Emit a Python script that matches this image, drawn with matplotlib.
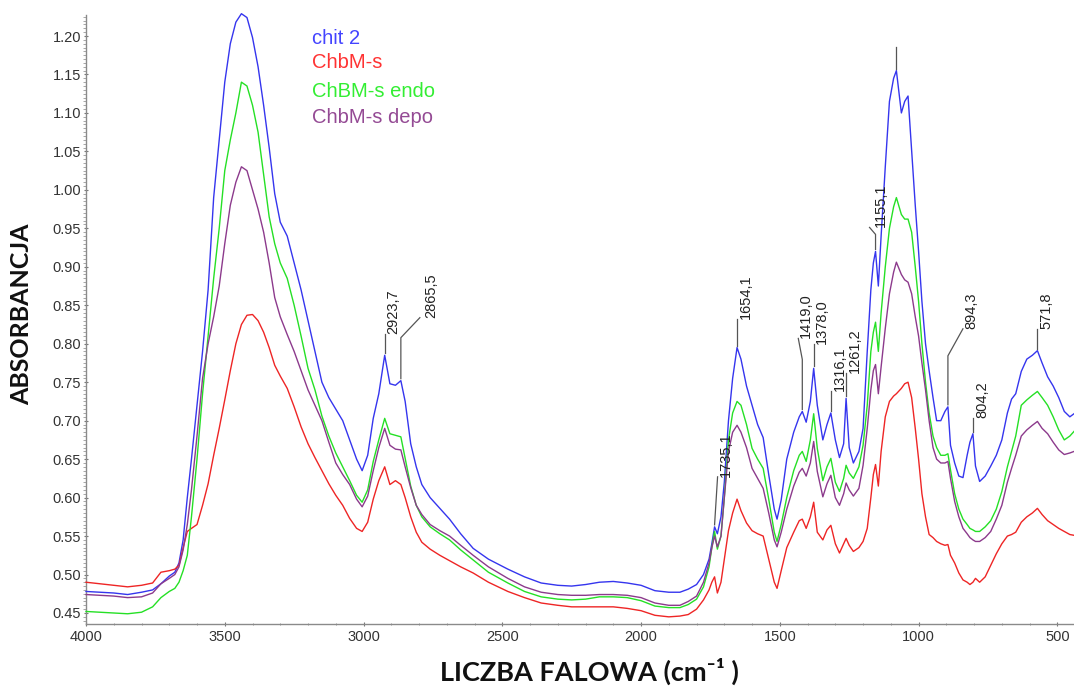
import matplotlib
matplotlib.use("Agg")
import matplotlib.pyplot as plt
from matplotlib.ticker import MultipleLocator, FormatStrFormatter
import numpy as np

# ---- FTIR spectra: wavenumber grid (cm-1) and absorbance of each sample ----
wavenumber = [
    4000, 3950, 3900, 3850, 3800, 3760, 3730, 3700, 3680, 3665, 3650,
    3635, 3620, 3600, 3580, 3560, 3540, 3520, 3500, 3480, 3460, 3440, 3420,
    3400, 3380, 3360, 3340, 3320, 3300, 3275, 3250, 3225, 3200, 3175, 3150, 3125,
    3100, 3075, 3050, 3025, 3005, 2985, 2965, 2945, 2923.7, 2905, 2885, 2865.5, 2850,
    2830, 2810, 2790, 2760, 2725, 2690, 2650, 2605, 2550, 2480, 2420, 2360, 2300, 2250, 2200,
    2150, 2100, 2050, 2000, 1950, 1900, 1860, 1830, 1800, 1775, 1755, 1745,
    1735.1, 1725, 1712, 1700, 1685, 1670, 1654.1, 1640, 1620, 1600, 1580, 1560, 1540,
    1520, 1510, 1495, 1475, 1450, 1430, 1419.0, 1405, 1390, 1378.0, 1365, 1345, 1330,
    1316.1, 1300, 1285, 1270, 1261.2, 1250, 1235, 1215, 1200, 1185, 1172, 1163,
    1155.1, 1145, 1135, 1120, 1105, 1090, 1080, 1062, 1050, 1038, 1025, 1012,
    1000, 988, 975, 962, 948, 935, 920, 905, 894.3, 885, 870, 855,
    840, 825, 815, 804.2, 795, 780, 760, 740, 720, 700, 680, 665,
    650, 630, 610, 590, 571.8, 555, 535, 515, 495, 475, 455, 440,
]

chit2 = [
    0.478, 0.477, 0.476, 0.474, 0.477, 0.480, 0.488, 0.498, 0.503, 0.515, 0.545,
    0.600, 0.650, 0.720, 0.790, 0.870, 0.990, 1.065, 1.140, 1.190, 1.218, 1.229, 1.224,
    1.198, 1.160, 1.110, 1.055, 0.995, 0.958, 0.940, 0.905, 0.870, 0.830, 0.790, 0.750, 0.730,
    0.715, 0.700, 0.675, 0.650, 0.635, 0.655, 0.703, 0.735, 0.785, 0.748, 0.746, 0.752, 0.725,
    0.670, 0.640, 0.617, 0.600, 0.586, 0.572, 0.553, 0.534, 0.520, 0.507, 0.497, 0.489, 0.486, 0.485, 0.487,
    0.490, 0.491, 0.489, 0.486, 0.479, 0.477, 0.477, 0.481, 0.487, 0.500, 0.520, 0.540,
    0.562, 0.553, 0.575, 0.620, 0.700, 0.755, 0.795, 0.780, 0.745, 0.720, 0.695, 0.678, 0.630,
    0.585, 0.572, 0.597, 0.650, 0.685, 0.705, 0.712, 0.698, 0.725, 0.768, 0.720, 0.675, 0.695,
    0.710, 0.675, 0.652, 0.670, 0.729, 0.665, 0.645, 0.660, 0.690, 0.790, 0.870, 0.905,
    0.920, 0.875, 0.940, 1.030, 1.115, 1.145, 1.155, 1.100, 1.115, 1.122, 1.050, 0.980,
    0.920, 0.855, 0.800, 0.765, 0.730, 0.700, 0.700, 0.712, 0.718, 0.668, 0.645, 0.628,
    0.626, 0.655, 0.672, 0.683, 0.641, 0.621, 0.628, 0.641, 0.655, 0.675, 0.710, 0.728,
    0.735, 0.764, 0.780, 0.785, 0.791, 0.775, 0.757, 0.745, 0.730, 0.712, 0.705, 0.709,
]

chbm_s = [
    0.490, 0.488, 0.486, 0.484, 0.486, 0.489, 0.503, 0.505, 0.507, 0.512, 0.535,
    0.556, 0.560, 0.565, 0.590, 0.618, 0.655, 0.690, 0.727, 0.765, 0.800, 0.825, 0.837,
    0.838, 0.830, 0.815, 0.795, 0.772, 0.758, 0.742, 0.718, 0.692, 0.670, 0.652, 0.635, 0.618,
    0.603, 0.590, 0.573, 0.560, 0.556, 0.568, 0.598, 0.622, 0.640, 0.617, 0.622, 0.617, 0.600,
    0.575, 0.555, 0.542, 0.533, 0.525, 0.518, 0.510, 0.502, 0.490, 0.478, 0.470, 0.463, 0.460, 0.458, 0.458,
    0.458, 0.458, 0.456, 0.453, 0.447, 0.445, 0.446, 0.448, 0.455, 0.467, 0.480, 0.490,
    0.497, 0.476, 0.490, 0.520, 0.557, 0.580, 0.598, 0.583, 0.567, 0.557, 0.553, 0.550, 0.520,
    0.490, 0.482, 0.505, 0.535, 0.555, 0.570, 0.572, 0.560, 0.575, 0.594, 0.555, 0.545, 0.558,
    0.564, 0.540, 0.528, 0.540, 0.547, 0.538, 0.530, 0.535, 0.543, 0.560, 0.600, 0.630,
    0.643, 0.615, 0.660, 0.705, 0.725, 0.732, 0.735, 0.742, 0.748, 0.750, 0.730, 0.690,
    0.650, 0.605, 0.575, 0.552, 0.548, 0.543, 0.540, 0.538, 0.539, 0.525, 0.515, 0.502,
    0.493, 0.490, 0.487, 0.490, 0.495, 0.490, 0.497, 0.512, 0.527, 0.540, 0.550, 0.552,
    0.555, 0.568, 0.575, 0.580, 0.586, 0.578, 0.570, 0.565, 0.560, 0.556, 0.552, 0.551,
]

chbm_s_endo = [
    0.452, 0.451, 0.450, 0.449, 0.451, 0.458, 0.470, 0.478, 0.482, 0.490, 0.505,
    0.525, 0.575, 0.650, 0.735, 0.810, 0.885, 0.950, 1.025, 1.065, 1.100, 1.140, 1.135,
    1.110, 1.075, 1.020, 0.965, 0.930, 0.905, 0.885, 0.850, 0.810, 0.768, 0.740, 0.706, 0.680,
    0.658, 0.640, 0.622, 0.603, 0.594, 0.610, 0.647, 0.675, 0.703, 0.683, 0.681, 0.679, 0.651,
    0.615, 0.590, 0.575, 0.562, 0.553, 0.545, 0.532, 0.519, 0.503, 0.489, 0.478, 0.471, 0.468, 0.467, 0.468,
    0.471, 0.471, 0.470, 0.466, 0.459, 0.457, 0.457, 0.461, 0.468, 0.484, 0.510, 0.535,
    0.556, 0.533, 0.550, 0.600, 0.675, 0.710, 0.725, 0.720, 0.695, 0.664, 0.650, 0.638, 0.598,
    0.555, 0.543, 0.565, 0.600, 0.635, 0.655, 0.660, 0.647, 0.675, 0.709, 0.664, 0.622, 0.640,
    0.651, 0.620, 0.608, 0.625, 0.642, 0.632, 0.625, 0.640, 0.668, 0.720, 0.790, 0.815,
    0.828, 0.790, 0.840, 0.900, 0.950, 0.978, 0.990, 0.968, 0.962, 0.962, 0.945, 0.900,
    0.855, 0.800, 0.750, 0.710, 0.680, 0.665, 0.655, 0.655, 0.657, 0.636, 0.605, 0.585,
    0.572, 0.565, 0.560, 0.558, 0.556, 0.556, 0.562, 0.570, 0.585, 0.608, 0.640, 0.660,
    0.680, 0.720, 0.727, 0.733, 0.738, 0.730, 0.720, 0.705, 0.688, 0.675, 0.680, 0.686,
]

chbm_s_depo = [
    0.474, 0.473, 0.472, 0.470, 0.471, 0.476, 0.488, 0.495, 0.500, 0.510, 0.532,
    0.565, 0.610, 0.680, 0.755, 0.800, 0.835, 0.875, 0.930, 0.980, 1.010, 1.030, 1.025,
    1.000, 0.975, 0.945, 0.905, 0.860, 0.835, 0.812, 0.790, 0.765, 0.740, 0.720, 0.700, 0.672,
    0.645, 0.630, 0.617, 0.598, 0.588, 0.602, 0.635, 0.665, 0.690, 0.668, 0.663, 0.662, 0.640,
    0.613, 0.590, 0.578, 0.565, 0.557, 0.550, 0.538, 0.525, 0.510, 0.495, 0.484, 0.477, 0.474, 0.473, 0.473,
    0.474, 0.474, 0.473, 0.470, 0.463, 0.460, 0.460, 0.465, 0.472, 0.490, 0.515, 0.535,
    0.550, 0.536, 0.550, 0.600, 0.660, 0.685, 0.694, 0.685, 0.665, 0.638, 0.625, 0.612, 0.580,
    0.545, 0.536, 0.555, 0.585, 0.615, 0.633, 0.638, 0.628, 0.645, 0.673, 0.634, 0.601, 0.618,
    0.629, 0.600, 0.590, 0.605, 0.619, 0.610, 0.602, 0.612, 0.642, 0.690, 0.740, 0.765,
    0.773, 0.735, 0.770, 0.820, 0.865, 0.893, 0.906, 0.890, 0.883, 0.880, 0.865, 0.835,
    0.810, 0.775, 0.740, 0.700, 0.665, 0.650, 0.645, 0.645, 0.647, 0.625, 0.595, 0.575,
    0.560, 0.553, 0.548, 0.545, 0.543, 0.543, 0.548, 0.556, 0.572, 0.590, 0.620, 0.638,
    0.655, 0.680, 0.688, 0.694, 0.699, 0.690, 0.683, 0.672, 0.662, 0.656, 0.658, 0.660,
]

series_names = ["chit 2", "ChbM-s", "ChBM-s endo", "ChbM-s depo"]
series_values = [chit2, chbm_s, chbm_s_endo, chbm_s_depo]
line_colors = ["#3535ee", "#ee2525", "#25e025", "#8c3a8c"]
name_colors = ["#4444ff", "#ff3333", "#33ee33", "#944a94"]

# band positions marked on the chit 2 spectrum
peak_labels = ["2923,7", "2865,5", "1735,1", "1654,1", "1419,0", "1378,0",
               "1316,1", "1261,2", "1155,1", "894,3", "804,2", "571,8", ""]
peak_wavenumbers = [2923.7, 2865.5, 1735.1, 1654.1, 1419.0, 1378.0,
                    1316.1, 1261.2, 1155.1, 894.3, 804.2, 571.8, 1080]

for vals in series_values:
    assert len(vals) == len(wavenumber)

plt.rcParams["font.family"] = ["Liberation Sans", "DejaVu Sans"]

W, H = 1074, 686
fig = plt.figure(figsize=(W / 100, H / 100), dpi=100)
ax = fig.add_axes([86 / W, 62 / H, 988 / W, 609 / H])

for vals, col in zip(series_values, line_colors):
    ax.plot(wavenumber, vals, color=col, lw=1.0, clip_on=False, zorder=3)

ax.set_xlim(4000, 440)
ax.set_ylim(0.4357, 1.2273)

ax.xaxis.set_major_locator(MultipleLocator(500))
ax.xaxis.set_minor_locator(MultipleLocator(100))
ax.yaxis.set_major_locator(MultipleLocator(0.05))
ax.yaxis.set_minor_locator(MultipleLocator(0.005))
ax.yaxis.set_major_formatter(FormatStrFormatter("%.2f"))

for side in ("top", "right"):
    ax.spines[side].set_visible(False)
for side in ("left", "bottom"):
    ax.spines[side].set_color("#8a8a8a")
    ax.spines[side].set_linewidth(1.0)

ax.tick_params(axis="both", which="major", labelsize=10.5, labelcolor="#333333",
               color="#777777", length=3, width=0.8, direction="inout")
ax.tick_params(axis="y", which="minor", color="#999999", length=2, width=0.6, direction="out")
ax.tick_params(axis="x", which="minor", color="#888888", length=2, width=0.6, direction="inout")
ax.tick_params(axis="y", which="major", pad=2)
ax.tick_params(axis="x", which="major", pad=3)

# sample names in their line colours
name_y = [0.9606, 0.9228, 0.8736, 0.8325]
for name, col, yy in zip(series_names, name_colors, name_y):
    ax.text(0.2287, yy, name, transform=ax.transAxes, color=col,
            fontsize=14.5, ha="left", va="center")

# peak labels with leader lines (offsets in pixels from the peak)
leader_paths = [
    [(0, 2), (0, 21)],
    [(0, 2), (0, 43), (19, 63)],
    [(0, 2), (3, 50)],
    [(0, 2), (0, 29)],
    [(0, 2), (0, 52), (-4, 73)],
    [(0, 2), (0, 24)],
    [(0, 2), (0, 22)],
    [(0, 2), (0, 25)],
    [(0, 2), (0, 17), (-6, 24)],
    [(0, 2), (0, 51), (15, 78)],
    [(0, 2), (0, 16)],
    [(0, 2), (0, 22)],
    [(0, 2), (0, 24)],
]
text_offsets = [(9, 21), (30, 63), (11, 50), (9, 29), (4, 73), (8, 24),
                (9, 22), (9, 25), (5, 24), (23, 78), (9, 16), (9, 22), (0, 24)]

to_disp = ax.transData.transform
to_data = ax.transData.inverted().transform
for label, wn, path, toff in zip(peak_labels, peak_wavenumbers, leader_paths, text_offsets):
    a = chit2[wavenumber.index(wn)]
    px, py = to_disp((wn, a))
    pts = to_data(np.array([(px + dx, py + dy) for dx, dy in path]))
    ax.plot(pts[:, 0], pts[:, 1], color="#555555", lw=0.9, clip_on=False, zorder=4)
    if label:
        ax.annotate(label, xy=(wn, a), xytext=toff, textcoords="offset pixels",
                    rotation=90, ha="center", va="bottom", fontsize=10.5,
                    color="#222222", annotation_clip=False)

fig.text(22 / W, 1 - 314 / H, "ABSORBANCJA", rotation=90, ha="center", va="center",
         fontsize=18, fontweight="bold", family=["Lato", "DejaVu Sans"], color="#111111")
fig.text(589 / W, 1 - 671 / H, "LICZBA FALOWA (cm\u207b\u00b9 )", ha="center", va="center",
         fontsize=19.5, fontweight="bold", family=["Lato", "DejaVu Sans"], color="#111111")

fig.savefig("out.png", dpi=100, facecolor="white")
